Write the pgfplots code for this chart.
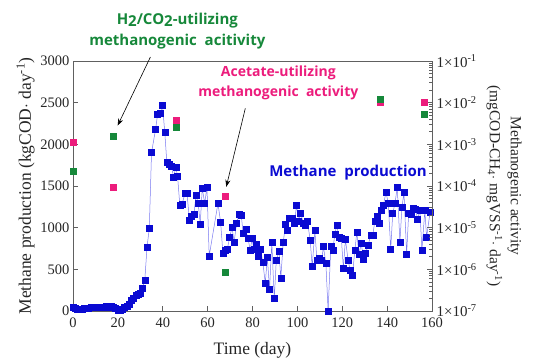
\documentclass[border=0pt]{standalone}
\usepackage{fontspec}
\setmainfont{Liberation Serif}
\newfontfamily\annotfont{Open Sans}
\usepackage{pgfplots}
\pgfplotsset{compat=1.18}
\usetikzlibrary{arrows.meta}

\definecolor{prodblue}{HTML}{0A0AD2}
\definecolor{prodline}{HTML}{7878F0}
\definecolor{acepink}{HTML}{EC1C7C}
\definecolor{hgreen}{HTML}{16883A}
\definecolor{axisgray}{HTML}{606060}

\begin{document}
\begin{tikzpicture}
% Left axis: methane production
\begin{axis}[
  at={(0,0)}, anchor=south west,
  scale only axis, width=359pt, height=250pt,
  xmin=0, xmax=160, ymin=0, ymax=3000,
  xtick={0,20,...,160}, ytick={0,500,...,3000},
  xticklabels={0,20,40,60,80,100,120,140,160},
  yticklabels={0,500,1000,1500,2000,2500,3000},
  axis line style={axisgray, line width=0.6pt},
  tick style={axisgray, line width=0.6pt},
  tick align=inside, major tick length=5pt,
  ytick pos=left, xtick pos=bottom,
  tick label style={font=\fontsize{14.5}{16}\selectfont, text=black!85},
  xticklabel style={yshift=-3pt},
  xlabel={Time (day)},
  ylabel={Methane production (kgCOD$\cdot$ day\textsuperscript{-1})},
  label style={font=\fontsize{17.5}{19}\selectfont, text=black!85},
  xlabel style={yshift=-8pt},
  ylabel style={yshift=-1pt},
  clip=false,
]
\addplot[prodline, line width=0.5pt, mark=square*, mark size=3pt,
  mark options={solid, fill=prodblue, draw=prodblue}] coordinates {
  (0,50) (1,35) (2,25) (3,20) (4,25) (5,30) (6,30) (7,35) (8,40) (9,40)
  (10,45) (11,45) (12,40) (13,45) (14,50) (15,55) (16,50) (17,55) (18,45) (19,30)
  (20,5) (21,10) (22,25) (23,40) (24,60) (25,80) (26,130) (27,150) (28,185) (29,200)
  (30,215) (31,270) (32,372) (33,770) (34,990) (35,1900) (36.8,2180) (37.7,2360)
  (38.8,2370) (39.9,2465) (40.9,2145) (41.8,1790) (42.9,1760) (43.8,1740)
  (44.9,1604) (45.8,1730) (46.6,1620) (47.6,1272) (48.6,1280) (49.9,1412)
  (50.8,1410) (51.9,1092) (52.9,1132) (53.9,1160) (54.8,1388) (55.8,1292)
  (56.7,1044) (57.6,1472) (58.7,1292) (59.7,1488) (60.7,660) (64.6,1292)
  (65.8,1064) (66.8,690) (67.8,732) (68.8,745) (69.8,884) (70.9,1004)
  (71.8,824) (72.9,1052) (74,1160) (75,1150) (75.8,932) (77,980) (78,868)
  (79,732) (79.8,868) (80.6,740) (81.7,804) (82.7,652) (83.6,744) (84.6,584)
  (85.7,332) (86.6,644) (87.6,260) (88.6,820) (89.7,148) (90.6,612) (91.8,716)
  (92.6,396) (93.7,820) (94.7,1044) (95.6,964) (96.5,1116) (97.7,1112)
  (98.7,1052) (99.6,1268) (100.6,1076) (101.5,1172) (102.7,1052) (103.6,1024)
  (104.5,1072) (105.7,852) (106.6,532) (107.8,964) (108.7,612) (109.6,628)
  (110.8,604) (111.6,772) (112.7,572) (113.7,0) (114.9,772) (115.8,732)
  (116.7,924) (117.6,1032) (118.5,884) (119.6,872) (120.5,512) (121.4,860)
  (122.6,612) (123.5,492) (124.5,424) (125.6,724) (126.5,948) (127.4,676)
  (128.5,812) (129.4,620) (130.4,688) (131.5,788) (132.7,908) (133.6,908)
  (134.5,1076) (135.7,1132) (136.7,1052) (137.4,1204) (138.3,1268) (139.5,1424)
  (140.5,1292) (141.6,744) (142.5,1172) (143.5,1292) (144.5,1484) (145.7,828)
  (146.6,1244) (147.5,1420) (148.7,684) (149.6,1172) (150.6,1160) (151.7,1228)
  (152.7,1220) (153.6,1100) (154.6,1212) (155.5,732) (156.8,1204) (157.6,884)
  (159.1,1180)
};
% annotations
\node[font=\annotfont\bfseries\fontsize{15}{21}\selectfont, text=hgreen, align=center]
  at (axis cs:46.5,3360) {H\raisebox{-2.5pt}{2}/CO\raisebox{-2.5pt}{2}-utilizing\\methanogenic\ \ acitivity};
\node[font=\annotfont\bfseries\fontsize{14}{20}\selectfont, text=acepink, align=center]
  at (axis cs:91.5,2740) {Acetate-utilizing\\methanogenic\ \ activity};
\node[font=\annotfont\bfseries\fontsize{15}{17}\selectfont, text=prodblue]
  at (axis cs:122.6,1656) {Methane\ \ production};
\draw[black, line width=0.6pt, -{Stealth[length=7pt,width=5pt]}]
  (axis cs:34.5,3048) -- (axis cs:19.9,2225);
\draw[black, line width=0.6pt, -{Stealth[length=7pt,width=5pt]}]
  (axis cs:76.8,2432) -- (axis cs:68.3,1490);
\end{axis}

% Right axis: methanogenic activity (log scale)
\begin{axis}[
  at={(0,0)}, anchor=south west,
  scale only axis, width=359pt, height=250pt,
  xmin=0, xmax=160, ymode=log, ymin=1e-7, ymax=1e-1,
  axis x line=none, axis y line*=right,
  axis line style={axisgray, line width=0.6pt},
  tick style={axisgray, line width=0.6pt},
  tick align=inside, major tick length=5pt, minor tick num=0,
  ytick={1e-7,1e-6,1e-5,1e-4,1e-3,1e-2,1e-1},
  yticklabels={1×10\textsuperscript{-7},1×10\textsuperscript{-6},1×10\textsuperscript{-5},
    1×10\textsuperscript{-4},1×10\textsuperscript{-3},1×10\textsuperscript{-2},1×10\textsuperscript{-1}},
  tick label style={font=\fontsize{15}{16}\selectfont, text=black!85},
  yticklabel style={xshift=1pt},
  ylabel={Methanogenic activity\\(mgCOD-CH\textsubscript{4}$\cdot$ mgVSS\textsuperscript{-1}$\cdot$ day\textsuperscript{-1})},
  ylabel style={font=\fontsize{15.5}{21}\selectfont, text=black!85, align=center, rotate=180, yshift=3pt},
  clip=false,
]
\addplot[only marks, mark=square*, mark size=3pt, mark options={fill=acepink, draw=acepink}]
  coordinates {(0,1.1e-3) (17.7,9.3e-5) (45.8,3.7e-3) (67.7,5.7e-5) (136.7,1.02e-2) (156.7,1.05e-2)};
\addplot[only marks, mark=square*, mark size=3pt, mark options={fill=hgreen, draw=hgreen}]
  coordinates {(0,2.3e-4) (17.7,1.6e-3) (45.8,2.6e-3) (67.7,8.5e-7) (136.7,1.23e-2) (156.7,5.3e-3)};
\end{axis}

\pgfresetboundingbox
\path[use as bounding box] (-73pt,-47pt) rectangle (461pt,311pt);
\end{tikzpicture}
\end{document}
